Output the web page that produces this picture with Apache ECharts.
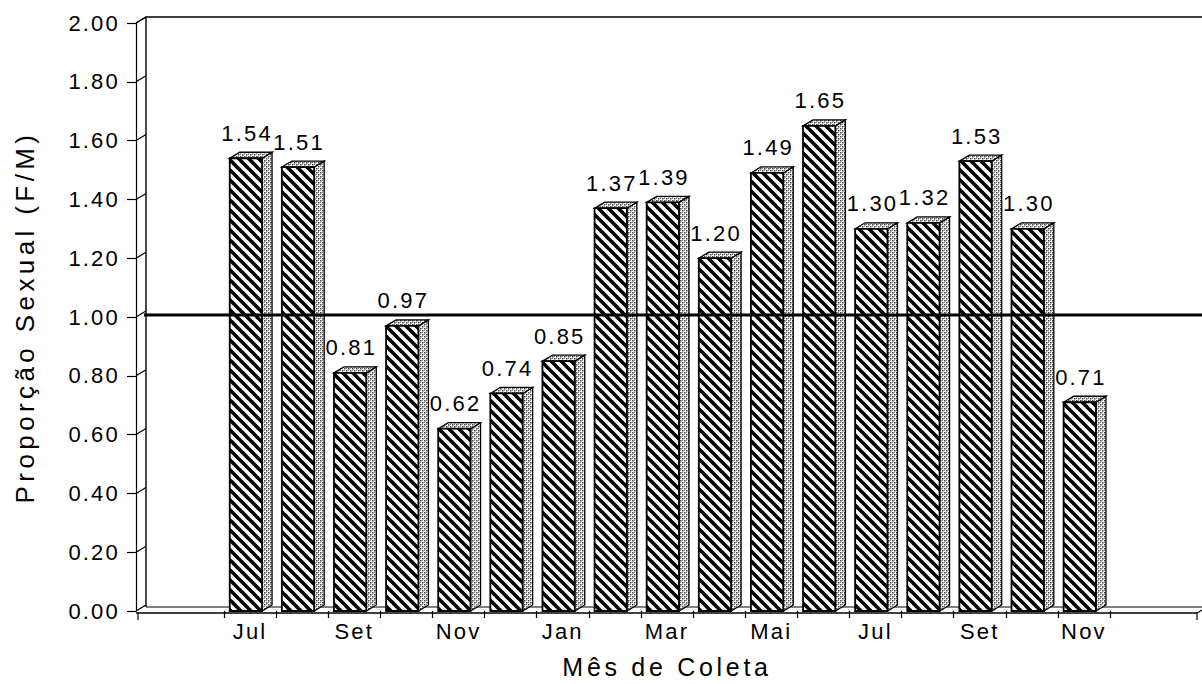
<!DOCTYPE html>
<html>
<head>
<meta charset="utf-8">
<script src="https://cdn.jsdelivr.net/npm/echarts@6/dist/echarts.min.js"></script>
<style>
  html, body { margin: 0; padding: 0; background: #fff; }
  #chart { width: 1202px; height: 684px; }
  /* wide tracking of the typeset labels */
  #chart text { letter-spacing: 2.2px; }
  #chart text[style*="25px"] { letter-spacing: 3.7px; }
  #chart text[style*="26px"] { letter-spacing: 4.4px; }
</style>
</head>
<body>
<div id="chart"></div>
<script>
// Monthly sex ratio (females per male) across the sampling period
const months = ['Jul', 'Ago', 'Set', 'Out', 'Nov', 'Dez', 'Jan', 'Fev', 'Mar', 'Abr', 'Mai', 'Jun', 'Jul', 'Ago', 'Set', 'Out', 'Nov'];
const ratios = [1.54, 1.51, 0.81, 0.97, 0.62, 0.74, 0.85, 1.37, 1.39, 1.20, 1.49, 1.65, 1.30, 1.32, 1.53, 1.30, 0.71];
const yTicks = [0, 0.2, 0.4, 0.6, 0.8, 1.0, 1.2, 1.4, 1.6, 1.8, 2.0];
const equalityLine = [1.0];

const FONT = 'Liberation Sans';
const WALL_GAP = 88;      // distance from first category to the left wall
const DEPTH_X = 10, DEPTH_Y = 6;

// diagonal hatch for the bar fronts
function makeHatch() {
  const n = 10;
  const c = document.createElement('canvas');
  c.width = n; c.height = n;
  const g = c.getContext('2d');
  g.fillStyle = '#fff'; g.fillRect(0, 0, n, n);
  g.strokeStyle = '#000'; g.lineWidth = 3.6;
  [-n, 0, n].forEach(k => {
    g.beginPath(); g.moveTo(k - 1, -1); g.lineTo(k + n + 1, n + 1); g.stroke();
  });
  return c;
}
// stipple for the sides and tops
function makeDots() {
  const c = document.createElement('canvas');
  c.width = 4; c.height = 4;
  const g = c.getContext('2d');
  g.fillStyle = '#fff'; g.fillRect(0, 0, 4, 4);
  g.fillStyle = '#444';
  g.fillRect(0, 0, 1.5, 1.5);
  g.fillRect(2, 2, 1.5, 1.5);
  g.fillStyle = '#888';
  g.fillRect(2, 0, 1, 1);
  g.fillRect(0, 2, 1, 1);
  return c;
}
const hatch = { image: makeHatch(), repeat: 'repeat' };
const dots = { image: makeDots(), repeat: 'repeat' };

function renderBar(params, api) {
  const i = api.value(0), v = api.value(1);
  const top = api.coord([i, v]);
  const base = api.coord([i, 0]);
  const slot = api.size([1, 0])[0];
  const cx = top[0];
  const x0 = cx - slot * 0.39, x1 = cx + slot * 0.23;
  const yt = top[1], yb = base[1];
  return {
    type: 'group',
    children: [
      { type: 'polygon', shape: { points: [[x1, yt], [x1 + DEPTH_X, yt - DEPTH_Y], [x1 + DEPTH_X, yb - DEPTH_Y], [x1, yb]] },
        style: { fill: dots, stroke: '#000', lineWidth: 1.3 } },
      { type: 'polygon', shape: { points: [[x0, yt], [x0 + DEPTH_X, yt - DEPTH_Y], [x1 + DEPTH_X, yt - DEPTH_Y], [x1, yt]] },
        style: { fill: dots, stroke: '#000', lineWidth: 1.3 } },
      { type: 'rect', shape: { x: x0, y: yt, width: x1 - x0, height: yb - yt },
        style: { fill: hatch, stroke: '#000', lineWidth: 1.8 } },
      { type: 'text', style: { text: v.toFixed(2), x: cx - 3, y: yt - 14, align: 'center', verticalAlign: 'bottom',
        font: '22px "' + FONT + '"', fill: '#000' } }
    ]
  };
}

function wallX(params) { return params.coordSys.x - WALL_GAP; }

// slanted tick marks on the back wall
function renderWallTick(params, api) {
  const y = api.coord([0, api.value(0)])[1];
  const x = wallX(params);
  return { type: 'line', shape: { x1: x, y1: y, x2: x + DEPTH_X, y2: y - DEPTH_Y },
    style: { stroke: '#000', lineWidth: 1.2 } };
}

// F/M = 1 reference line across the back of the plot
function renderEquality(params, api) {
  const y = api.coord([0, api.value(0)])[1] - 2;
  const x = wallX(params) + DEPTH_X - 2;
  return { type: 'line', shape: { x1: x, y1: y, x2: 1202, y2: y },
    style: { stroke: '#000', lineWidth: 3 } };
}

const chart = echarts.init(document.getElementById('chart'), null, { renderer: 'svg' });

const gridLeft = 224, gridTop = 23, gridBottom = 71, gridRight = 92;
const x0 = gridLeft - WALL_GAP;        // front wall
const yBase = 684 - gridBottom;        // front floor
const yTopPx = gridTop;

chart.setOption({
  animation: false,
  backgroundColor: '#fff',
  textStyle: { fontFamily: FONT, color: '#000' },
  grid: { left: gridLeft, right: gridRight, top: gridTop, bottom: gridBottom },
  xAxis: {
    type: 'category',
    data: months,
    boundaryGap: true,
    axisLine: { show: false },
    axisTick: { show: true, length: 7, lineStyle: { color: '#000', width: 1.2 }, interval: 0 },
    axisLabel: { interval: 1, fontSize: 22, color: '#000', margin: 9, fontFamily: FONT },
    name: 'Mês de Coleta',
    nameLocation: 'middle',
    nameGap: 43,
    nameTextStyle: { fontSize: 25, color: '#000', fontFamily: FONT }
  },
  yAxis: {
    type: 'value',
    min: 0, max: 2, interval: 0.2,
    offset: WALL_GAP,
    axisLine: { show: true, lineStyle: { color: '#000', width: 1.2 } },
    axisTick: { show: true, length: 9, lineStyle: { color: '#000', width: 1.2 } },
    splitLine: { show: false },
    axisLabel: { fontSize: 22, color: '#000', margin: 16, fontFamily: FONT,
      formatter: v => v.toFixed(2) },
    name: 'Proporção Sexual (F/M)',
    nameLocation: 'middle',
    nameGap: 98,
    nameTextStyle: { fontSize: 26, color: '#000', fontFamily: FONT }
  },
  graphic: [
    // back wall, top edge and floor of the box
    { type: 'polyline', silent: true, shape: { points: [[x0 + DEPTH_X, yBase - DEPTH_Y], [x0 + DEPTH_X, yTopPx - DEPTH_Y], [1202, yTopPx - DEPTH_Y]] },
      style: { stroke: '#000', lineWidth: 1.4, fill: null } },
    { type: 'line', silent: true, shape: { x1: x0, y1: yTopPx, x2: x0 + DEPTH_X, y2: yTopPx - DEPTH_Y }, style: { stroke: '#000', lineWidth: 1.2 } },
    { type: 'line', silent: true, shape: { x1: x0, y1: yBase, x2: 1197, y2: yBase }, style: { stroke: '#000', lineWidth: 1.5 } },
    { type: 'line', silent: true, shape: { x1: x0 + DEPTH_X, y1: yBase - DEPTH_Y, x2: 1202, y2: yBase - DEPTH_Y }, style: { stroke: '#000', lineWidth: 1.2 } },
    { type: 'line', silent: true, shape: { x1: x0 + 2, y1: yBase, x2: x0 + 2, y2: yBase + 7 }, style: { stroke: '#000', lineWidth: 1.2 } },
    { type: 'line', silent: true, shape: { x1: 1197, y1: yBase, x2: 1197, y2: yBase + 7 }, style: { stroke: '#000', lineWidth: 1.2 } },
    { type: 'line', silent: true, shape: { x1: 1197, y1: yBase, x2: 1202, y2: yBase - 3 }, style: { stroke: '#000', lineWidth: 1.2 } }
  ],
  series: [
    {
      type: 'custom',
      name: 'wall',
      renderItem: renderWallTick,
      data: yTicks.map(v => [v]),
      encode: { y: 0 },
      silent: true,
      z: 1
    },
    {
      type: 'custom',
      name: 'F/M',
      renderItem: renderBar,
      data: ratios.map((v, i) => [i, v]),
      encode: { x: 0, y: 1 },
      z: 2
    },
    {
      type: 'custom',
      name: 'equality',
      renderItem: renderEquality,
      data: equalityLine.map(v => [v]),
      encode: { y: 0 },
      silent: true,
      z: 3
    }
  ]
});
</script>
</body>
</html>
